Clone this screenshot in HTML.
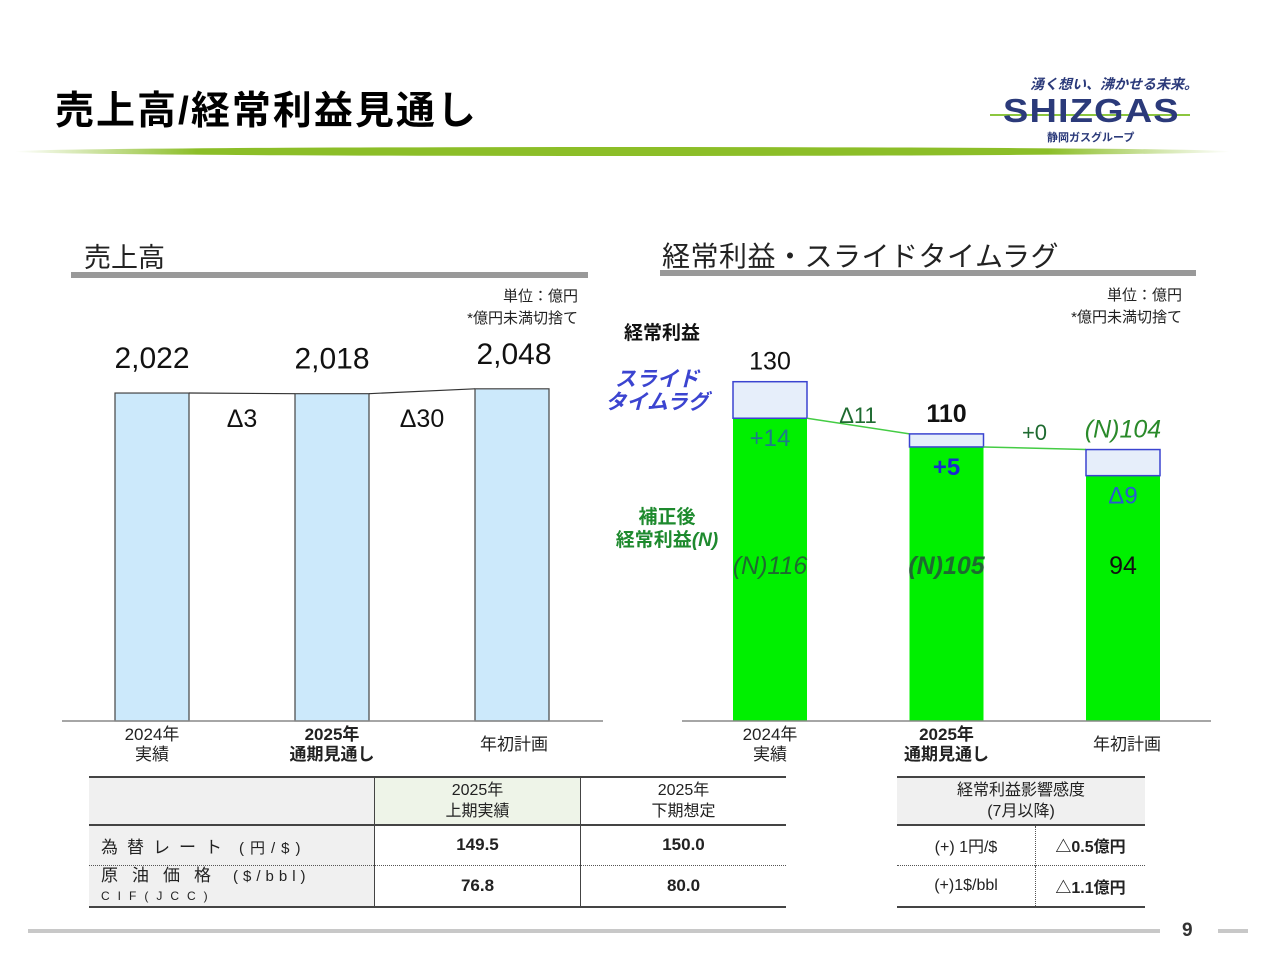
<!DOCTYPE html>
<html><head><meta charset="utf-8">
<style>
body{margin:0;width:1280px;height:960px;background:#fff;overflow:hidden;position:relative;font-family:"Liberation Sans","Noto Sans CJK JP",sans-serif;}
.a{position:absolute;white-space:nowrap;}
svg{position:absolute;left:0;top:0;}
table{border-collapse:collapse;position:absolute;font-size:16px;color:#222;}
td{text-align:center;padding:0;}
</style></head><body>
<div class="a" style="left:55px;top:80px;font-size:39px;font-weight:bold;color:#000;letter-spacing:2px;">売上高/経常利益見通し</div>
<div class="a" style="left:15px;top:147px;width:1215px;height:9px;background:linear-gradient(90deg,rgba(140,190,40,0) 0%,#8cbe28 15%,#8cbe28 85%,rgba(140,190,40,0) 100%);border-radius:50%;"></div>
<div class="a" style="left:985px;top:68px;width:215px;height:80px;">
  <div class="a" style="left:45px;top:6px;font-size:14px;font-style:italic;font-weight:bold;color:#2b3a7a;">湧く想い、沸かせる未来。</div>
  <div class="a" style="left:5px;top:46px;width:200px;height:2px;background:#8cc63f;"></div>
  <div class="a" style="left:18px;top:24px;font-size:33px;font-weight:900;color:#2b3a7a;letter-spacing:1px;transform:scaleX(1.15);transform-origin:left;">SHIZGAS</div>
  <div class="a" style="left:62px;top:61px;font-size:11px;font-weight:bold;color:#2b3a7a;">静岡ガスグループ</div>
</div>

<div class="a" style="left:84px;top:236px;font-size:27px;color:#222;">売上高</div>
<div class="a" style="left:71px;top:272px;width:517px;height:6px;background:#999;"></div>
<div class="a" style="left:440px;top:286px;width:138px;text-align:right;font-size:15px;line-height:22px;color:#222;">単位：億円<br>*億円未満切捨て</div>

<div class="a" style="left:662px;top:235px;font-size:28px;letter-spacing:0.5px;color:#222;">経常利益・スライドタイムラグ</div>
<div class="a" style="left:660px;top:270px;width:536px;height:6px;background:#999;"></div>
<div class="a" style="left:1040px;top:285px;width:142px;text-align:right;font-size:15px;line-height:22px;color:#222;">単位：億円<br>*億円未満切捨て</div>
<div class="a" style="left:624px;top:318px;font-size:19px;font-weight:bold;color:#111;">経常利益</div>
<div class="a" style="left:604px;top:368px;width:106px;text-align:center;font-size:21px;line-height:23px;font-weight:bold;font-style:italic;color:#3b44d0;">スライド<br>タイムラグ</div>
<div class="a" style="left:604px;top:506px;width:126px;text-align:center;font-size:19px;line-height:23px;font-weight:bold;color:#1e8a2e;">補正後<br>経常利益<i>(N)</i></div>

<svg id="chart" width="1280" height="960"></svg>

<table style="left:89px;top:776px;width:697px;">
<tr style="height:48px;border-top:2px solid #444;border-bottom:2px solid #444;"><td style="width:285px;background:#f0f0f0;"></td><td style="width:205px;background:#eef4e8;border-left:1px solid #444;border-right:1px solid #444;line-height:21px;">2025年<br>上期実績</td><td style="line-height:21px;">2025年<br>下期想定</td></tr>
<tr style="height:40px;border-bottom:1px dotted #555;"><td style="background:#f0f0f0;text-align:left;padding-left:12px;letter-spacing:9px;font-size:17px;">為替レート<span style="letter-spacing:6px;font-size:15px;margin-left:8px;">(円/$)</span></td><td style="font-weight:bold;font-size:17px;border-left:1px solid #444;border-right:1px solid #444;">149.5</td><td style="font-weight:bold;font-size:17px;">150.0</td></tr>
<tr style="height:42px;border-bottom:2px solid #444;"><td style="background:#f0f0f0;text-align:left;padding-left:12px;line-height:19px;"><span style="letter-spacing:14px;font-size:17px;">原油価格</span><span style="letter-spacing:5px;font-size:15px;margin-left:8px;">($/bbl)</span><br><span style="letter-spacing:8px;font-size:12px;">CIF(JCC)</span></td><td style="font-weight:bold;font-size:17px;border-left:1px solid #444;border-right:1px solid #444;">76.8</td><td style="font-weight:bold;font-size:17px;">80.0</td></tr>
</table>

<table style="left:897px;top:776px;width:248px;">
<tr style="height:48px;border-top:2px solid #444;border-bottom:2px solid #444;background:#f0f0f0;"><td colspan="2" style="line-height:21px;">経常利益影響感度<br>(7月以降)</td></tr>
<tr style="height:40px;border-bottom:1px dotted #555;"><td style="width:138px;border-right:1px dotted #555;">(+) 1円/$</td><td style="font-weight:bold;">△0.5億円</td></tr>
<tr style="height:42px;border-bottom:2px solid #444;"><td style="border-right:1px dotted #555;">(+)1$/bbl</td><td style="font-weight:bold;">△1.1億円</td></tr>
</table>

<div class="a" style="left:28px;top:929px;width:1132px;height:4px;background:#c8c8c8;"></div>
<div class="a" style="left:1182px;top:920px;font-size:19px;font-weight:bold;color:#333;">9</div>
<div class="a" style="left:1218px;top:929px;width:30px;height:4px;background:#c8c8c8;"></div>

<script>
const salesCats=["2024年\n実績","2025年\n通期見通し","年初計画"];
const salesVals=[2022,2018,2048];
const salesLabels=["2,022","2,018","2,048"];
const salesDiffs=["Δ3","Δ30"];
const profitCats=["2024年\n実績","2025年\n通期見通し","年初計画"];
const profitAdj=[116,105,94];
const profitTotal=[130,110,104];
const lagLabels=["+14","+5","Δ9"];
const adjLabels=["(N)116","(N)105","94"];
const totalLabels=["130","110","(N)104"];
const profitDiffs=["Δ11","+0"];

const NS="http://www.w3.org/2000/svg";
const svg=document.getElementById('chart');
function mk(tag,attrs,txt){const e=document.createElementNS(NS,tag);for(const k in attrs)e.setAttribute(k,attrs[k]);if(txt!==undefined)e.textContent=txt;svg.appendChild(e);return e;}
const base=721;
const sx=i=>115+i*180, bw=74, sy=v=>base-v*0.1622;
for(let i=0;i<salesVals.length;i++){
  const r=mk('rect',{x:sx(i),y:sy(salesVals[i]),width:bw,height:base-sy(salesVals[i]),fill:'#cce9fb',stroke:'#444','stroke-width':1.2});
  
  
  const t=mk('text',{x:sx(i)+bw/2+(i==2?2:0),y:sy(salesVals[i])-25,'text-anchor':'middle','font-size':30,fill:'#111'},salesLabels[i]);
  
  
  const lines=salesCats[i].split('\n');
  lines.forEach((l,j)=>{const c=mk('text',{x:sx(i)+bw/2-(i==2?-2:0),y:i==2?750:740+j*20,'text-anchor':'middle','font-size':17,'font-weight':i==1?'bold':'normal',fill:'#222'},l);
    
    });
  if(i<salesVals.length-1){
    const ln=mk('line',{x1:sx(i)+bw,y1:sy(salesVals[i]),x2:sx(i+1),y2:sy(salesVals[i+1]),stroke:'#333','stroke-width':1.2});
    
    
    const d=mk('text',{x:sx(i)+bw+53,y:427,'text-anchor':'middle','font-size':25,fill:'#111'},salesDiffs[i]);
    
    
  }
}
const sa=mk('line',{x1:62,y1:base,x2:603,y2:base,stroke:'#888','stroke-width':1.5});



const px=i=>733+i*176.5, pw=74, py=v=>base-v*2.61;
for(let i=0;i<profitAdj.length;i++){
  const g=mk('rect',{x:px(i),y:py(profitAdj[i]),width:pw,height:base-py(profitAdj[i]),fill:'#00f000'});
  
  
  const up=profitTotal[i]>=profitAdj[i];
  const top=py(Math.max(profitTotal[i],profitAdj[i])), bot=py(Math.min(profitTotal[i],profitAdj[i]));
  const b=mk('rect',{x:px(i),y:top,width:pw,height:bot-top,fill:'#e6eefa',stroke:up?'#3b44d0':'#55dd55','stroke-width':1.5});
  
  
  const cx=px(i)+pw/2;
  const tl=mk('text',{x:cx,y:top-12,'text-anchor':'middle','font-size':25,'font-weight':i==1?'bold':'normal','font-style':i==2?'italic':'normal',fill:i==2?'#2a8a2a':'#111'},totalLabels[i]);
  
  
  const ll=mk('text',{x:cx,y:bot+28,'text-anchor':'middle','font-size':24,'font-weight':i==1?'bold':'normal',fill:i==1?'#1a2ad0':(i==0?'#1e7a8a':'#2a5ad0')},lagLabels[i]);
  
  
  const al=mk('text',{x:cx,y:574,'text-anchor':'middle','font-size':25,'font-weight':i==1?'bold':'normal','font-style':i==2?'normal':'italic',fill:i==2?'#111':'#1e6a30'},adjLabels[i]);
  
  
  const lines=profitCats[i].split('\n');
  lines.forEach((l,j)=>{const c=mk('text',{x:cx+(i==2?4:0),y:i==2?750:740+j*20,'text-anchor':'middle','font-size':17,'font-weight':i==1?'bold':'normal',fill:'#222'},l);
    
    });
  if(i<profitAdj.length-1){
    const y1=py(profitAdj[i]), y2=py(Math.max(profitTotal[i+1],profitAdj[i+1]));
    const ln=mk('line',{x1:px(i)+pw,y1:y1,x2:px(i+1),y2:y2,stroke:'#44cc44','stroke-width':1.5});
    
    
    const d=mk('text',{x:px(i)+pw+51,y:Math.min(y1,y2)+5-(i==1?12:0),'text-anchor':'middle','font-size':22,fill:'#1e6a30'},profitDiffs[i]);
    
    
  }
}
const pa=mk('line',{x1:682,y1:base,x2:1211,y2:base,stroke:'#888','stroke-width':1.5});


</script>
</body></html>
